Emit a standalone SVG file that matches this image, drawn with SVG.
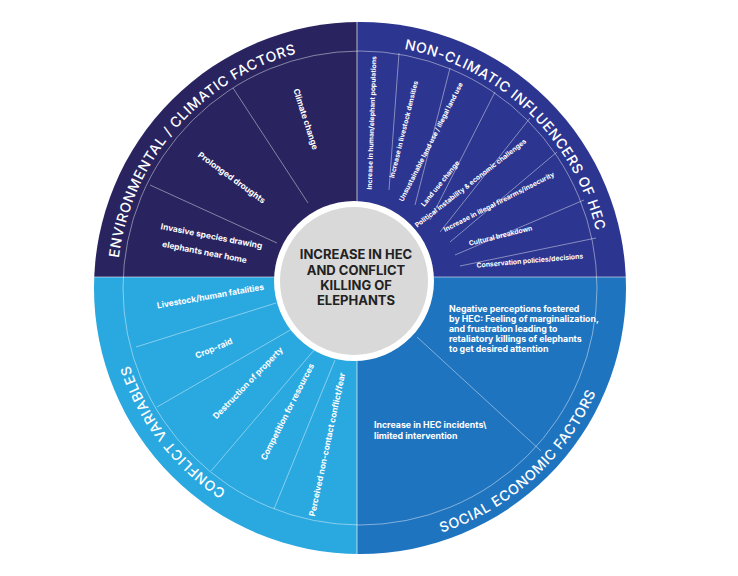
<svg xmlns="http://www.w3.org/2000/svg" width="738" height="576" viewBox="0 0 738 576">
<defs>
<clipPath id="c"><circle cx="360" cy="288" r="266"/></clipPath>
<path id="pEnv" d="M130.2,367.1 A243,243 0 0 1 406.4,49.5"/>
<path id="pNon" d="M291,55 A243,243 0 0 1 596.3,344.7"/>
<path id="pSoc" d="M281.6,533.8 A258,258 0 0 0 612.1,233"/>
<path id="pCon" d="M391.7,528.9 A243,243 0 0 1 135.5,195"/>
</defs>
<style>
text{font-family:Inter,"Liberation Sans",sans-serif;fill:#fff;font-weight:700}
.t{font-size:14px;font-weight:500;letter-spacing:0.6px}
.s{font-size:6.8px}
.m{font-size:8.4px}
.l{font-size:8.8px}
.ln{stroke:#fff;stroke-opacity:0.55;stroke-width:0.8;fill:none}
</style>
<rect width="738" height="576" fill="#fff"/>
<g id="quadrants" clip-path="url(#c)">
<rect x="80" y="10" width="277" height="267" fill="#29245f"/>
<rect x="357" y="10" width="290" height="267" fill="#2c358f"/>
<rect x="80" y="277" width="277" height="290" fill="#2aa8e0"/>
<rect x="357" y="277" width="290" height="290" fill="#1f74bf"/>
</g>
<g id="connectors" class="ln">
<circle cx="360" cy="288" r="237"/>
<line x1="357" y1="10" x2="357" y2="560" stroke-width="1.2"/>
<line x1="80" y1="277" x2="640" y2="277" stroke-width="1.2"/>
<line x1="233" y1="88" x2="308" y2="203"/>
<line x1="150" y1="185" x2="277" y2="243"/>
<line x1="399" y1="53" x2="389" y2="190"/>
<line x1="450" y1="68" x2="415" y2="205"/>
<line x1="495" y1="92" x2="430" y2="220"/>
<line x1="530" y1="118" x2="440" y2="232"/>
<line x1="557" y1="152" x2="450" y2="242"/>
<line x1="584" y1="200" x2="455" y2="255"/>
<line x1="596" y1="238" x2="460" y2="266"/>
<line x1="136" y1="347" x2="276" y2="303"/>
<line x1="157" y1="407" x2="292" y2="329"/>
<line x1="211" y1="471" x2="315" y2="349"/>
<line x1="274" y1="509" x2="335" y2="360"/>
<line x1="417" y1="337" x2="541" y2="451"/>
</g>
<g id="titles">
<text class="t"><textPath href="#pEnv" startOffset="50%" text-anchor="middle">ENVIRONMENTAL / CLIMATIC FACTORS</textPath></text>
<text class="t"><textPath href="#pNon" startOffset="50%" text-anchor="middle">NON-CLIMATIC INFLUENCERS OF HEC</textPath></text>
<text class="t"><textPath href="#pSoc" startOffset="50%" text-anchor="middle">SOCIAL ECONOMIC FACTORS</textPath></text>
<text class="t"><textPath href="#pCon" startOffset="50%" text-anchor="middle">CONFLICT VARIABLES</textPath></text>
</g>
<g id="env" text-anchor="middle">
<text class="m" transform="translate(303,120) rotate(72)">Climate change</text>
<text class="m" transform="translate(230,180) rotate(36)">Prolonged droughts</text>
<text class="m" transform="translate(211,239) rotate(11)">Invasive species drawing</text>
<text class="m" transform="translate(204,255) rotate(11)">elephants near home</text>
</g>
<g id="nonclimatic" text-anchor="middle">
<text class="s" transform="translate(374,123) rotate(-88)">Increase in human/elephant populations</text>
<text class="s" transform="translate(406,130) rotate(-76)">Increase in livestock densities</text>
<text class="s" transform="translate(433,143) rotate(-63)">Unsustainable land use / illegal land use</text>
<text class="s" transform="translate(442,185) rotate(-51)">Land use change</text>
<text class="s" transform="translate(472,185) rotate(-38)">Political instability &amp; economic challenges</text>
<text class="s" transform="translate(500,204) rotate(-27)">Increase in illegal firearms/insecurity</text>
<text class="s" transform="translate(501,238) rotate(-14)">Cultural breakdown</text>
<text class="s" transform="translate(530,263) rotate(-5)">Conservation policies/decisions</text>
</g>
<g id="conflict" text-anchor="middle">
<text class="m" transform="translate(211,299) rotate(-10)">Livestock/human fatalities</text>
<text class="m" transform="translate(215,351) rotate(-23)">Crop-raid</text>
<text class="m" transform="translate(250,385) rotate(-46)">Destruction of property</text>
<text class="m" transform="translate(290,413) rotate(-63)">Competition for resources</text>
<text class="m" transform="translate(330,445) rotate(-78)">Perceived non-contact conflict/fear</text>
</g>
<g id="social">
<text class="l" x="449" y="312">Negative perceptions fostered</text>
<text class="l" x="449" y="322">by HEC: Feeling of marginalization,</text>
<text class="l" x="449" y="332">and frustration leading to</text>
<text class="l" x="449" y="342">retaliatory killings of elephants</text>
<text class="l" x="449" y="352">to get desired attention</text>
<text class="l" x="374" y="428">Increase in HEC incidents\</text>
<text class="l" x="374" y="439">limited intervention</text>
</g>
<g id="hub">
<circle cx="354" cy="281" r="80" fill="#fff"/>
<circle cx="354" cy="281" r="74" fill="#d9d9d9"/>
<g text-anchor="middle" style="font-size:13px">
<text x="356" y="259" style="fill:#222">INCREASE IN HEC</text>
<text x="356" y="274.5" style="fill:#222">AND CONFLICT</text>
<text x="356" y="290" style="fill:#222">KILLING OF</text>
<text x="356" y="305" style="fill:#222">ELEPHANTS</text>
</g>
</g>
</svg>
